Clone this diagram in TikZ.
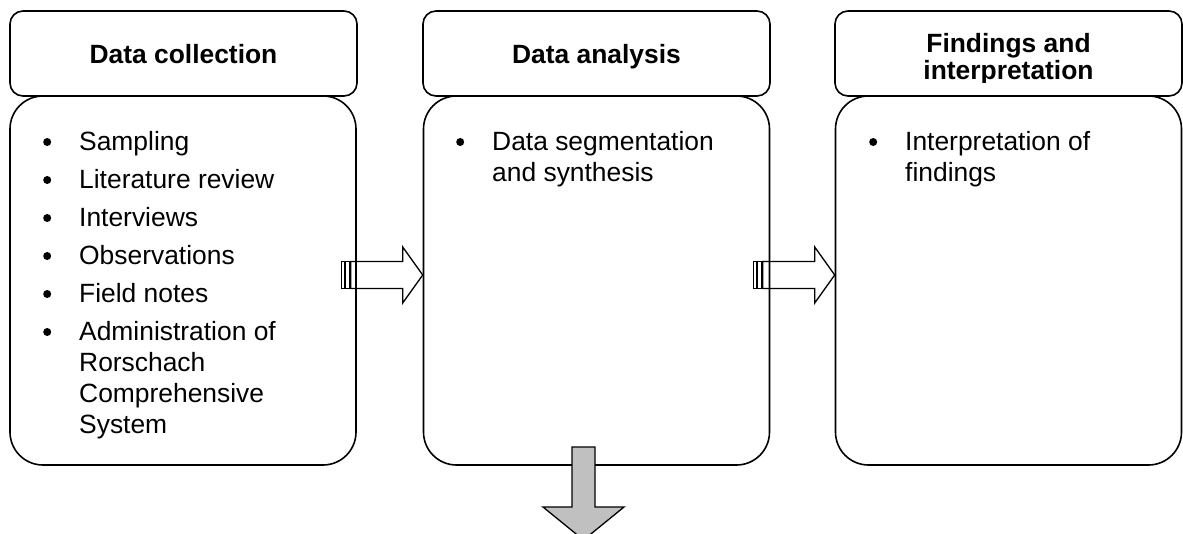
\documentclass[tikz,border=0pt]{standalone}
\usepackage{fontspec}
\setmainfont{Liberation Sans}
\usetikzlibrary{calc}
\definecolor{arrowgray}{HTML}{C0C0C0}
\newcommand{\bodyfont}{\fontsize{26.4}{31}\selectfont}
\newcommand{\headfont}{\fontsize{26.4}{26.5}\selectfont\bfseries}
\newcommand{\dotmark}{\tikz[baseline=0pt]\fill (0,8pt) circle (4pt);}
\newcommand{\bul}{\makebox[64pt]{\dotmark}}
\newcommand{\gap}{\\[7pt]}
\begin{document}
\begin{tikzpicture}[x=1pt,y=-1pt,line width=1.6pt,
  headbox/.style={draw,rounded corners=13pt,fill=white,minimum width=347pt,
    minimum height=85pt,inner sep=0pt,align=center,font=\headfont,
    text height=19pt,text depth=0pt},
  headtext/.style={inner sep=0pt,align=center,font=\headfont,
    text height=19pt,text depth=22pt},
  bodybox/.style={draw,rounded corners=33pt,fill=white,minimum width=346pt,
    minimum height=369pt,inner sep=0pt},
  items/.style={anchor=base west,inner sep=0pt,font=\bodyfont,align=left},
  flowarrow/.style={draw,line width=1.3pt,line join=miter},
  stripe/.style={draw,line width=1.4pt},
  downarrow/.style={draw,line width=1.3pt,fill=arrowgray,line join=miter}]
\useasboundingbox (0,0) rectangle (1183,533);

% stage headers
\node[headbox] (h1) at (183.5,53.5) {Data collection};
\node[headbox] (h2) at (596.5,53.5) {Data analysis};
\node[headbox] (h3) at (1008.5,53.5) {};
% two-line title, cut off at the bottom of its text area
\begin{scope}
  \clip (h3.north west) rectangle ($(h3.east)+(0,28.5)$);
  \node[headtext] (h3t) at (h3.center)
    {\begin{tabular}[t]{@{}c@{}}Findings and\\ interpretation\end{tabular}};
\end{scope}

% stage bodies
\node[bodybox] (b1) at (183,280.5) {};
\node[bodybox] (b2) at (596.5,280.5) {};
\node[bodybox] (b3) at (1008.5,280.5) {};

% bullet lists
\node[items] (l1) at (15,150) {\begin{tabular}[t]{@{}l@{}l@{}}
\bul & Sampling\gap
\bul & Literature review\gap
\bul & Interviews\gap
\bul & Observations\gap
\bul & Field notes\gap
\bul & Administration of\\
     & Rorschach\\
     & Comprehensive\\
     & System
\end{tabular}};
\node[items] (l2) at (428,150) {\begin{tabular}[t]{@{}l@{}l@{}}
\bul & Data segmentation\\
     & and synthesis
\end{tabular}};
\node[items] (l3) at (841,150) {\begin{tabular}[t]{@{}l@{}l@{}}
\bul & Interpretation of\\
     & findings
\end{tabular}};

% striped block arrows between the stages
\coordinate (t1) at (b2.west |- 0,275);
\coordinate (t2) at (b3.west |- 0,275);
\foreach \t in {t1,t2}{
  \draw[stripe] ($(\t)+(-81,-13.5)$) rectangle ($(\t)+(-78.5,13.5)$);
  \draw[stripe] ($(\t)+(-77,-13.5)$) rectangle ($(\t)+(-73.5,13.5)$);
  \draw[flowarrow] ($(\t)+(-72,-13.5)$) -- ($(\t)+(-20,-13.5)$) -- ($(\t)+(-20,-28)$)
    -- (\t) -- ($(\t)+(-20,28)$) -- ($(\t)+(-20,13.5)$) -- ($(\t)+(-72,13.5)$) -- cycle;
}

% downward arrow out of the analysis stage
\coordinate (d0) at (583.5,447);
\draw[downarrow] ($(d0)+(-11.5,0)$) -- ($(d0)+(11.5,0)$) -- ($(d0)+(11.5,60)$)
  -- ($(d0)+(40.5,60)$) -- ($(d0)+(0,93)$) -- ($(d0)+(-40.5,60)$)
  -- ($(d0)+(-11.5,60)$) -- cycle;
\end{tikzpicture}
\end{document}
